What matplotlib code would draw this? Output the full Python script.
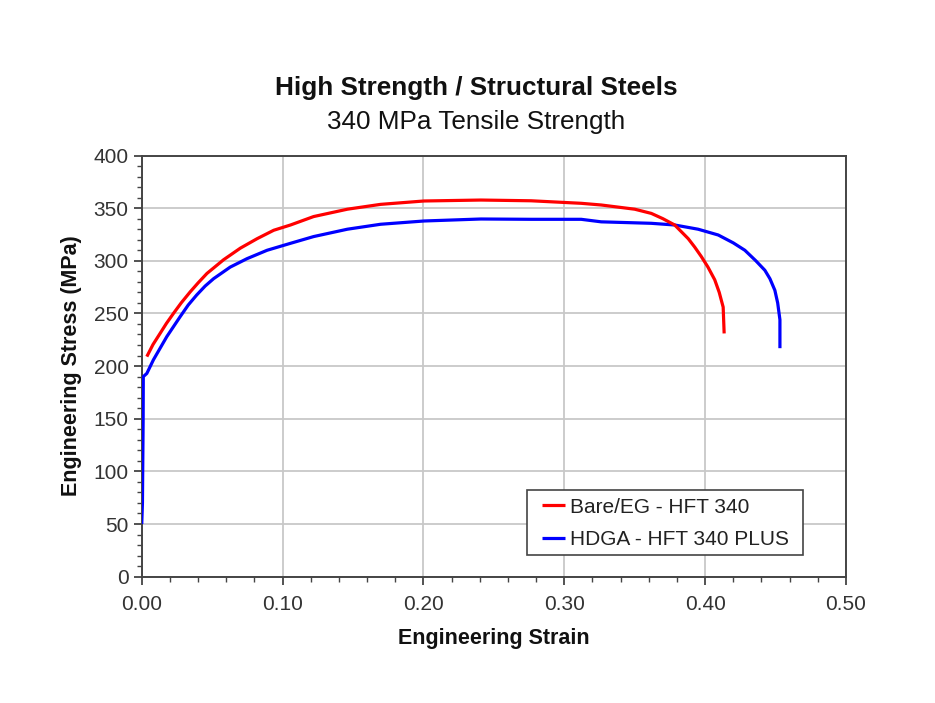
import matplotlib
matplotlib.use("Agg")
import matplotlib.pyplot as plt
from matplotlib.patches import Rectangle
from matplotlib.ticker import MultipleLocator, FormatStrFormatter

plt.rcParams['font.family'] = ['Liberation Sans', 'DejaVu Sans']

# Tensile test curves: engineering strain (-) vs engineering stress (MPa)
bare_strain = [0.0036, 0.008, 0.013, 0.0175, 0.0225, 0.028, 0.0344, 0.040,
               0.0463, 0.0581, 0.070, 0.0819, 0.0937, 0.1056, 0.122, 0.146,
               0.1696, 0.2004, 0.2408, 0.2764, 0.312, 0.3262, 0.35, 0.3618,
               0.370, 0.3784, 0.388, 0.3926, 0.3973, 0.402, 0.4068, 0.410,
               0.4128, 0.4135]
bare_stress = [209, 220.5, 231, 240.5, 250, 260, 270.5, 279,
               288, 301, 312, 321, 329, 334, 342, 349,
               353.6, 356.8, 357.7, 357, 354.6, 353, 349, 345,
               340, 334, 321, 313, 304, 294, 282, 270,
               256, 231]

hdga_strain = [0.0, 0.0005, 0.001, 0.0011, 0.0036, 0.0083, 0.0178, 0.0273,
               0.033, 0.039, 0.045, 0.051, 0.0628, 0.0747, 0.089, 0.1056,
               0.122, 0.146, 0.1696, 0.2004, 0.2408, 0.2764, 0.312, 0.3262,
               0.3618, 0.3784, 0.395, 0.4093, 0.420, 0.4282, 0.436, 0.4424,
               0.446, 0.4495, 0.4515, 0.4531, 0.4531]
hdga_stress = [50, 70, 150, 190, 193, 206, 228, 247,
               258, 267.5, 276, 283, 294, 302, 310, 316.6,
               323, 330, 334.7, 337.8, 339.7, 339.4, 339.4, 337,
               335.6, 334, 330, 324.5, 317, 310, 300, 291,
               283, 272, 260, 244, 217]

series_labels = ["Bare/EG - HFT 340", "HDGA - HFT 340 PLUS"]
x_ticks = [0.0, 0.1, 0.2, 0.3, 0.4, 0.5]
y_ticks = [0, 50, 100, 150, 200, 250, 300, 350, 400]

fig = plt.figure(figsize=(9.35, 7.03), dpi=100)
ax = fig.add_axes([0.1516, 0.1797, 0.9048 - 0.1516, 0.7788 - 0.1797])

ax.plot(hdga_strain, hdga_stress, color="#0000ff", lw=2.3,
        label=series_labels[1], solid_capstyle="butt", solid_joinstyle="round",
        zorder=3)
ax.plot(bare_strain, bare_stress, color="#ff0000", lw=2.3,
        label=series_labels[0], solid_capstyle="butt", solid_joinstyle="round",
        zorder=4)

ax.set_xlim(0, 0.5)
ax.set_ylim(0, 400)
ax.set_xticks(x_ticks)
ax.set_yticks(y_ticks)
ax.xaxis.set_major_formatter(FormatStrFormatter("%.2f"))
ax.xaxis.set_minor_locator(MultipleLocator(0.02))
ax.yaxis.set_minor_locator(MultipleLocator(10))

axis_color = "#444444"
ax.tick_params(which="major", direction="out", length=6, width=1.3,
               colors=axis_color, labelsize=15, labelcolor="#333333")
ax.tick_params(axis="x", which="major", pad=7)
ax.tick_params(axis="y", which="major", pad=3.5)
ax.tick_params(which="minor", direction="out", length=3.5, width=1.0,
               colors=axis_color)
ax.tick_params(axis="x", which="both", top=False)
ax.tick_params(axis="y", which="both", right=False)

for side in ["left", "bottom", "top", "right"]:
    ax.spines[side].set_color(axis_color)
    ax.spines[side].set_linewidth(1.4)

ax.grid(True, which="major", color="#c8c8c8", lw=1.3)
ax.set_axisbelow(True)

ax.set_xlabel("Engineering Strain", fontsize=15.5, fontweight="bold",
              color="#111111", labelpad=10)
ax.set_ylabel("Engineering Stress (MPa)", fontsize=15.5, fontweight="bold",
              color="#111111", labelpad=8)

fig.text(0.509, 0.875, "High Strength / Structural Steels", ha="center",
         va="center", fontsize=18.8, fontweight="bold", color="#111111")
fig.text(0.509, 0.826, "340 MPa Tensile Strength", ha="center",
         va="center", fontsize=18.8, color="#111111")

# Legend entries without their own frame; a plain box is drawn around them
handles, labels = ax.get_legend_handles_labels()
order = [1, 0]
leg = ax.legend([handles[i] for i in order], [labels[i] for i in order],
                loc="center left", bbox_to_anchor=(0.5688, 0.1262),
                fontsize=15, frameon=False, handlelength=1.09,
                handletextpad=0.24, borderpad=0, labelspacing=0.66,
                borderaxespad=0)
leg.set_zorder(6)
for t in leg.get_texts():
    t.set_color("#222222")

legend_box = Rectangle((0.5466, 0.0515), 0.9394 - 0.5466, 0.2058 - 0.0515,
                       transform=ax.transAxes, facecolor="white",
                       edgecolor="#444444", lw=1.2, zorder=5)
ax.add_patch(legend_box)

fig.savefig("out.png", dpi=100, facecolor="white")
